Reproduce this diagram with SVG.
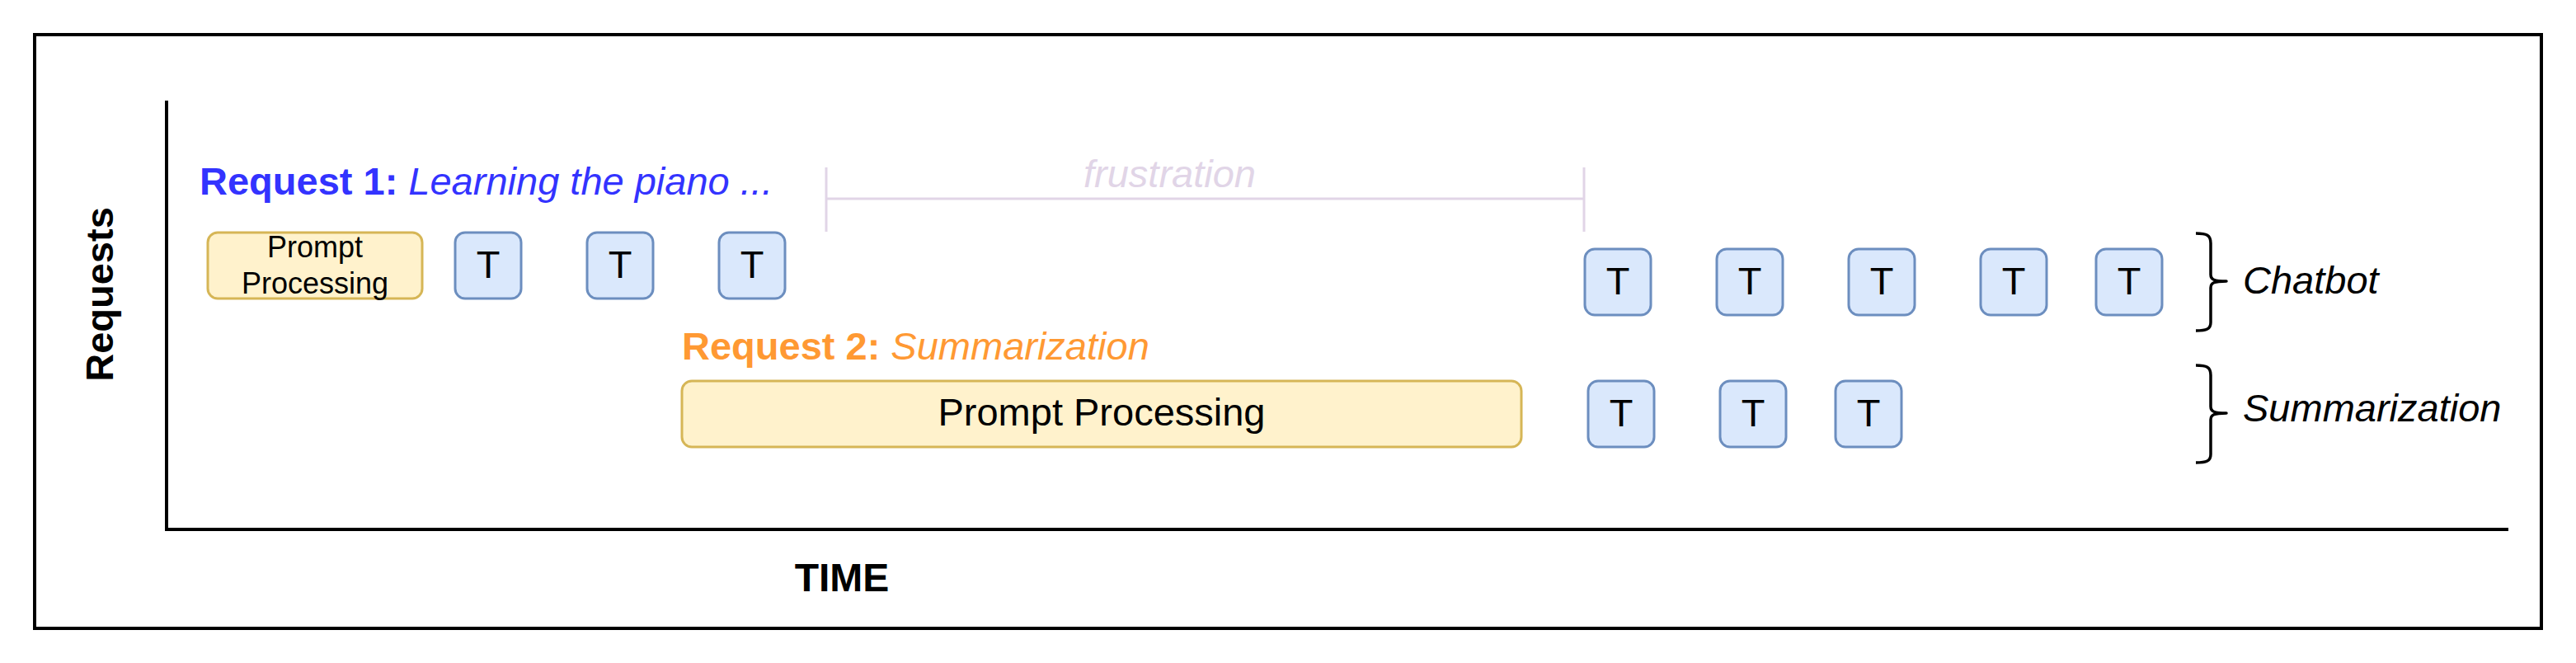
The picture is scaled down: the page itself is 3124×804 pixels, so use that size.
<svg xmlns="http://www.w3.org/2000/svg" width="3124" height="804" viewBox="0 0 3124 804">
<style>
text{font-family:"Liberation Sans",Arial,Helvetica,sans-serif}
.tb{fill:#dae8fc;stroke:#6c8ebf;stroke-width:3}
.pp{fill:#fff2cc;stroke:#d6b656;stroke-width:3}
.tt{font-size:47px;fill:#000;text-anchor:middle}
.lbl{font-size:47px;font-style:italic;fill:#000}
.brace{fill:none;stroke:#000;stroke-width:3.5;stroke-linejoin:round}
.ax{stroke:#000;stroke-width:4;fill:none}
</style>
<rect width="3124" height="804" fill="#fff"/>
<g id="frame"><rect x="42" y="42" width="3040" height="720" class="ax"/></g>
<g id="axes">
<line x1="202" y1="122" x2="202" y2="644" class="ax"/>
<line x1="200" y1="642" x2="3042" y2="642" class="ax"/>
<text x="137" y="357" transform="rotate(-90 137 357)" text-anchor="middle" font-size="47" font-weight="bold" fill="#000">Requests</text>
<text x="1021" y="717" text-anchor="middle" font-size="48" font-weight="bold" fill="#000">TIME</text>
</g>
<g id="request1-label"><text x="242" y="236" font-size="47" fill="#3333ff"><tspan font-weight="bold">Request 1:</tspan><tspan font-style="italic"> Learning the piano ...</tspan></text></g>
<g id="request2-label"><text x="827" y="436" font-size="47" fill="#ff9933"><tspan font-weight="bold">Request 2:</tspan><tspan font-style="italic"> Summarization</tspan></text></g>
<g id="frustration">
<g stroke="#e1d5e7" stroke-width="3" fill="none">
<line x1="1002" y1="203" x2="1002" y2="281"/>
<line x1="1921" y1="203" x2="1921" y2="281"/>
<line x1="1002" y1="241" x2="1921" y2="241"/>
</g>
<text x="1314" y="227" font-size="47" font-style="italic" fill="#e1d5e7">frustration</text>
</g>
<g id="pp1"><rect x="252" y="282" width="260" height="80" rx="12" class="pp"/>
<text x="382" y="312" font-size="36" text-anchor="middle">Prompt</text>
<text x="382" y="356" font-size="36" text-anchor="middle">Processing</text></g>
<g id="t1a"><rect x="552" y="282" width="80" height="80" rx="12" class="tb"/><text x="592" y="337" class="tt">T</text></g>
<g id="t1b"><rect x="712" y="282" width="80" height="80" rx="12" class="tb"/><text x="752" y="337" class="tt">T</text></g>
<g id="t1c"><rect x="872" y="282" width="80" height="80" rx="12" class="tb"/><text x="912" y="337" class="tt">T</text></g>
<g id="t1d"><rect x="1922" y="302" width="80" height="80" rx="12" class="tb"/><text x="1962" y="357" class="tt">T</text></g>
<g id="t1e"><rect x="2082" y="302" width="80" height="80" rx="12" class="tb"/><text x="2122" y="357" class="tt">T</text></g>
<g id="t1f"><rect x="2242" y="302" width="80" height="80" rx="12" class="tb"/><text x="2282" y="357" class="tt">T</text></g>
<g id="t1g"><rect x="2402" y="302" width="80" height="80" rx="12" class="tb"/><text x="2442" y="357" class="tt">T</text></g>
<g id="t1h"><rect x="2542" y="302" width="80" height="80" rx="12" class="tb"/><text x="2582" y="357" class="tt">T</text></g>
<g id="pp2"><rect x="827" y="462" width="1018" height="80" rx="12" class="pp"/>
<text x="1336" y="516" font-size="47" text-anchor="middle">Prompt Processing</text></g>
<g id="t2a"><rect x="1926" y="462" width="80" height="80" rx="12" class="tb"/><text x="1966" y="517" class="tt">T</text></g>
<g id="t2b"><rect x="2086" y="462" width="80" height="80" rx="12" class="tb"/><text x="2126" y="517" class="tt">T</text></g>
<g id="t2c"><rect x="2226" y="462" width="80" height="80" rx="12" class="tb"/><text x="2266" y="517" class="tt">T</text></g>
<g id="chatbot-brace">
<path class="brace" d="M2663,283 C2676,283 2681,285 2681,295 L2681,333 C2681,339 2685,341 2700,341 C2685,341 2681,343 2681,349 L2681,391 C2681,399 2676,401 2663,401"/>
<text x="2720" y="356" class="lbl">Chatbot</text>
</g>
<g id="summarization-brace">
<path class="brace" d="M2663,443 C2676,443 2681,445 2681,455 L2681,493 C2681,499 2685,501 2700,501 C2685,501 2681,503 2681,509 L2681,551 C2681,559 2676,561 2663,561"/>
<text x="2720" y="511" class="lbl">Summarization</text>
</g>
</svg>
